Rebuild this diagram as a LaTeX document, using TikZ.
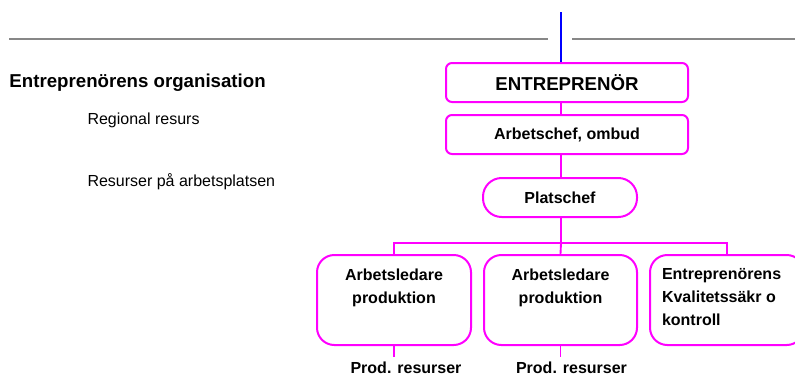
\documentclass[tikz,border=0pt]{standalone}
\usepackage{fontspec}
\setmainfont{Liberation Sans}
\usetikzlibrary{fit}
\definecolor{mag}{RGB}{255,0,255}
\definecolor{grayline}{RGB}{135,135,135}
\definecolor{blueline}{RGB}{0,0,255}
\begin{document}
\begin{tikzpicture}[x=0.75pt,y=-0.75pt,
  boxbase/.style={draw=mag, line width=1.5pt, inner sep=0pt, fill=white},
  sqbox/.style={boxbase, rounded corners=4.5pt},
  pillbox/.style={boxbase, rounded corners=14pt},
  bigbox/.style={boxbase, rounded corners=13pt},
  conn/.style={draw=mag, line width=1.4pt},
  ftbig/.style={font=\fontsize{14pt}{17pt}\selectfont\bfseries},
  ftbold/.style={font=\fontsize{12pt}{17.25pt}\selectfont\bfseries},
  ftreg/.style={font=\fontsize{12pt}{17.25pt}\selectfont},
  txt/.style={inner sep=0pt, outer sep=0pt}
]
\useasboundingbox (0,0) rectangle (795,376);
\clip (0,0) rectangle (795,376);

% gray rule lines
\draw[grayline, line width=1.5pt] (9,38.5) -- (548,38.5);
\draw[grayline, line width=1.5pt] (572,38.5) -- (800,38.5);

% left texts
\node[txt, ftbig, anchor=base west] (title) at (9.5,87) {Entreprenörens organisation};
\node[txt, ftreg, anchor=base west] (reg) at (87.5,124) {Regional resurs};
\node[txt, ftreg, anchor=base west] (res) at (87.5,186) {Resurser på arbetsplatsen};

% connectors' fixed points
\coordinate (topc) at (561,12);
\coordinate (bus) at (561,243);
\coordinate (end1) at (394,357);
\coordinate (end2) at (560.5,357);

% boxes
\node[sqbox, fit={(446,63) (688,102)}] (ent) {};
\node[txt, ftbig] at (ent.center) {ENTREPRENÖR};
\node[sqbox, fit={(446,115) (688,154)}] (arb) {};
\node[txt, ftbold] at (arb.center) {Arbetschef, ombud};
\node[pillbox, fit={(483,178) (637,217)}] (plat) {};
\node[txt, ftbold] at (plat.center) {Platschef};

\node[bigbox, fit={(317,255) (471,345)}] (al1) {};
\node[bigbox, fit={(484,255) (637,345)}] (al2) {};
\node[bigbox, fit={(650,255) (804,345)}] (kv) {};

\node[txt, ftbold, align=center, anchor=north] (al1t) at (394,268.5) {Arbetsledare\\produktion};
\node[txt, ftbold, align=center, anchor=north] (al2t) at (560.5,268.5) {Arbetsledare\\produktion};
\node[txt, ftbold, align=left, anchor=north west] (kvt) at (662,268.5) {Entreprenörens\\Kvalitetssäkr o\\kontroll};

\node[txt, ftbold, anchor=base] (pr1) at (406,373) {Prod. resurser};
\node[txt, ftbold, anchor=base] (pr2) at (571.5,373) {Prod. resurser};

% connectors
\draw[blueline, line width=1.3pt] (topc) -- (topc |- ent.north);
\draw[conn] (ent.south -| topc) -- (arb.north -| topc);
\draw[conn] (arb.south -| topc) -- (plat.north -| topc);
\draw[conn] (plat.south -| topc) -- (bus);
\draw[conn] (al1.north) |- (bus) -| (kv.north);
\draw[conn] (bus) -- (al2.north);
\draw[conn] (al1.south) -- (end1);
\draw[conn] (al2.south) -- (end2);
\end{tikzpicture}
\end{document}
